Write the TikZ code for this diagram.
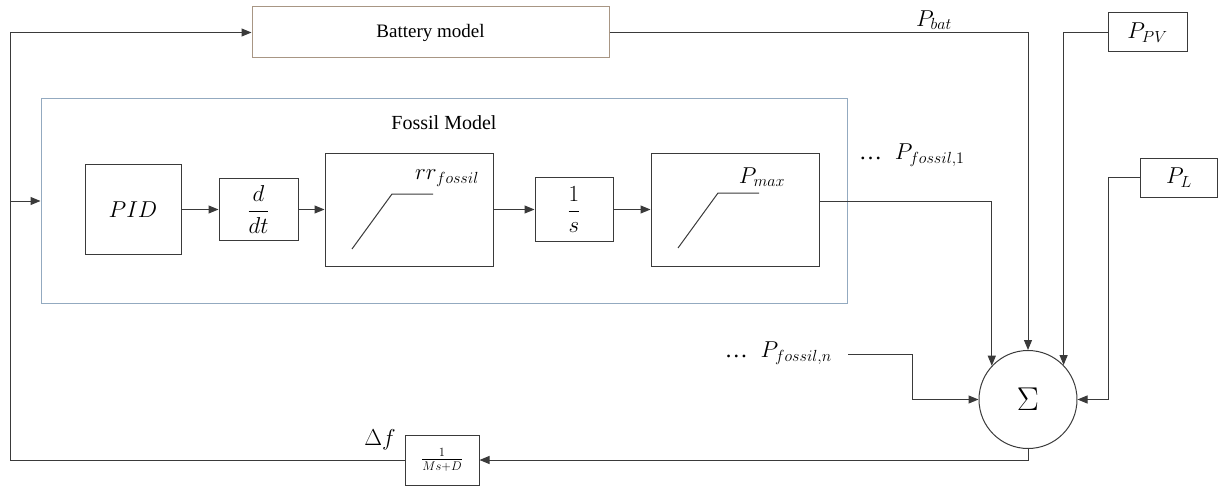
\RequirePackage{fix-cm}
\documentclass[tikz,border=0pt]{standalone}
\usepackage{fontspec}
\setmainfont{Liberation Serif}
\usetikzlibrary{arrows.meta,calc}
\definecolor{batcol}{HTML}{A89684}
\definecolor{fosscol}{HTML}{93AAC0}
\definecolor{linecol}{HTML}{3A3A3A}
\newcommand{\mydots}{\textrm{…}}
\tikzset{
  blk/.style={draw=linecol,line width=1pt,rectangle,inner sep=0pt},
  arr/.style={draw=linecol,line width=1pt,-{Triangle[length=10pt,width=8pt]}},
  ln/.style={draw=linecol,line width=1pt},
  mlab/.style={font=\fontsize{23}{26}\selectfont,inner sep=0pt},
  tlab/.style={font=\fontsize{19}{22}\selectfont,inner sep=0pt}
}
\begin{document}
\begin{tikzpicture}[x=1pt,y=-1pt]
\useasboundingbox (0,0) rectangle (1219,487);
% outer blocks
\node[blk,draw=batcol,minimum width=357pt,minimum height=51pt,tlab] (bat) at (430.5,32.5) {Battery model};
\node[blk,draw=fosscol,minimum width=806pt,minimum height=204pt] (fossil) at (444,201) {};
\node[tlab,font=\fontsize{20}{22}\selectfont] (fosslab) at (444,123) {Fossil Model};
% chain
\node[blk,minimum width=96pt,minimum height=90pt,mlab] (pid) at (133,209.5) {$PID$};
\node[blk,minimum width=79pt,minimum height=62pt,mlab] (ddt) at (258.5,209.5) {$\displaystyle\frac{d}{dt}$};
\node[blk,minimum width=168pt,minimum height=113pt] (rr) at (409,209.5) {};
\node[blk,minimum width=78pt,minimum height=64pt,mlab] (integ) at (574,209.5) {$\displaystyle\frac{1}{s}$};
\node[blk,minimum width=168pt,minimum height=113pt] (pmax) at (735,209.5) {};
\node[mlab] (rrlab) at (447,178) {$rr_{fossil}$};
\node[mlab] (pmaxlab) at (762,177) {$P_{max}$};
\draw[ln] (352,249) -- (392,194) -- (433,194);
\draw[ln] (678,248) -- (718,193) -- (759,193);
% right-hand sources
\node[blk,minimum width=79pt,minimum height=39pt,mlab] (ppv) at (1147.5,32.5) {$P_{PV}$};
\node[blk,minimum width=77pt,minimum height=39pt,mlab] (pl) at (1179,177.5) {$P_L$};
\node[draw=linecol,line width=1pt,circle,minimum size=98pt,inner sep=0pt,font=\fontsize{33}{33}\selectfont] (sum) at (1028,399.5) {$\Sigma$};
\node[blk,minimum width=74pt,minimum height=50pt,font=\fontsize{18}{19}\selectfont] (gain) at (442,460) {$\frac{1}{Ms+D}$};
% labels
\node[mlab] (pbatlab) at (934,20) {$P_{bat}$};
\node[mlab,anchor=west] (pf1lab) at (859,155) {$\mydots\;\;P_{fossil,1}$};
\node[mlab,anchor=east] (pfnlab) at (832,353) {$\mydots\;\;P_{fossil,n}$};
\node[mlab] (dflab) at (380,440) {$\Delta f$};
% coordinates
\coordinate (lbot) at (10,460);
\coordinate (ltop) at (10,32.5);
\coordinate (lmid) at (10,201);
\coordinate (fnstart) at (848,354);
% connectors
\draw[arr] (pid.east) -- (ddt.west);
\draw[arr] (ddt.east) -- (rr.west);
\draw[arr] (rr.east) -- (integ.west);
\draw[arr] (integ.east) -- (pmax.west);
\draw[arr] ([yshift=8.5pt]pmax.east) -| (sum.137);
\draw[arr] (bat.east) -| (sum.north);
\draw[arr] (ppv.west) -| (sum.44);
\draw[arr] (pl.west) -- ++(-32,0) |- (sum.east);
\draw[arr] (fnstart) -- ++(64,0) |- (sum.west);
\draw[arr] (sum.south) |- (gain.east);
\draw[ln] (gain.west) -- (lbot) -- (ltop);
\draw[arr] (ltop) -- (bat.west);
\draw[arr] (lmid) -- (fossil.west);
\end{tikzpicture}
\end{document}
